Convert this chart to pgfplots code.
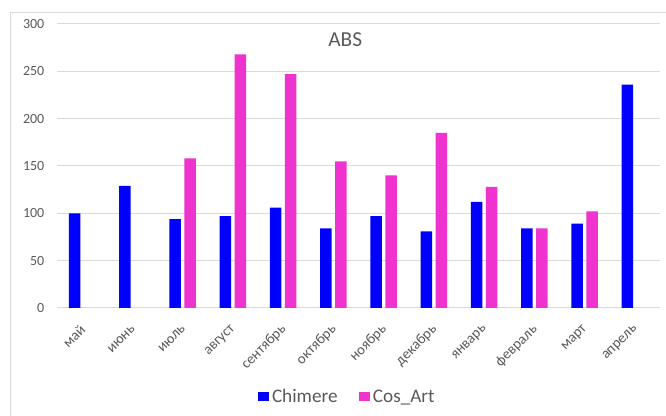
\documentclass[border=0pt]{standalone}
\usepackage{fontspec}
\setmainfont{Carlito}
\usepackage{pgfplots}
\pgfplotsset{compat=1.18}
\definecolor{chim}{RGB}{0,0,255}
\definecolor{cosc}{RGB}{238,51,206}
\definecolor{gridc}{RGB}{217,217,217}
\definecolor{txt}{RGB}{89,89,89}
\begin{document}
\begin{tikzpicture}
\useasboundingbox (0pt,0pt) rectangle (499.5pt,312pt);
\draw[gridc, line width=0.75pt] (7.9pt,0pt) -- (7.9pt,302.25pt) -- (499.5pt,302.25pt);
\begin{axis}[
  at={(42.75pt,81pt)}, anchor=south west,
  scale only axis, width=452.25pt, height=213pt,
  xmin=-0.5, xmax=11.5, ymin=0, ymax=300,
  ybar=2.6pt, bar width=8.6pt,
  xtick={0,...,11},
  xticklabels={май,июнь,июль,август,сентябрь,октябрь,ноябрь,декабрь,январь,февраль,март,апрель},
  ytick={0,50,...,300},
  ymajorgrids, grid style={gridc, line width=0.75pt},
  axis line style={draw=none},
  major tick length=0pt,
  tick label style={txt, font=\fontsize{10.5}{12}\selectfont},
  /pgf/number format/assume math mode=true,
  xticklabel style={yshift=-12pt, xshift=3pt, rotate=45, anchor=east, font=\fontsize{11}{12}\selectfont},
  yticklabel style={xshift=-6pt},
  legend style={at={(0.482,-0.313)}, anchor=center, draw=none, fill=none,
    legend columns=2, font=\fontsize{14.4}{16}\selectfont, text=txt,
    /tikz/every even column/.append style={column sep=14pt}},
  legend image code/.code={\path[use as bounding box] (0pt,-3.4pt) rectangle (8.5pt,3.4pt);
    \fill[#1] (0pt,-3.4pt) rectangle (6.8pt,3.4pt);},
]
\addplot[fill=chim, draw=none] coordinates {
 (0,100) (1,129) (2,94) (3,97) (4,106) (5,84) (6,97) (7,81) (8,112) (9,84) (10,89) (11,236)};
\addplot[fill=cosc, draw=none] coordinates {
 (2,158) (3,268) (4,247) (5,155) (6,140) (7,185) (8,128) (9,84) (10,102)};
\legend{Chimere,Cos\_Art}
\node[txt, font=\fontsize{16}{18}\selectfont] at (rel axis cs:0.478,0.944) {ABS};
\end{axis}
\end{tikzpicture}
\end{document}
